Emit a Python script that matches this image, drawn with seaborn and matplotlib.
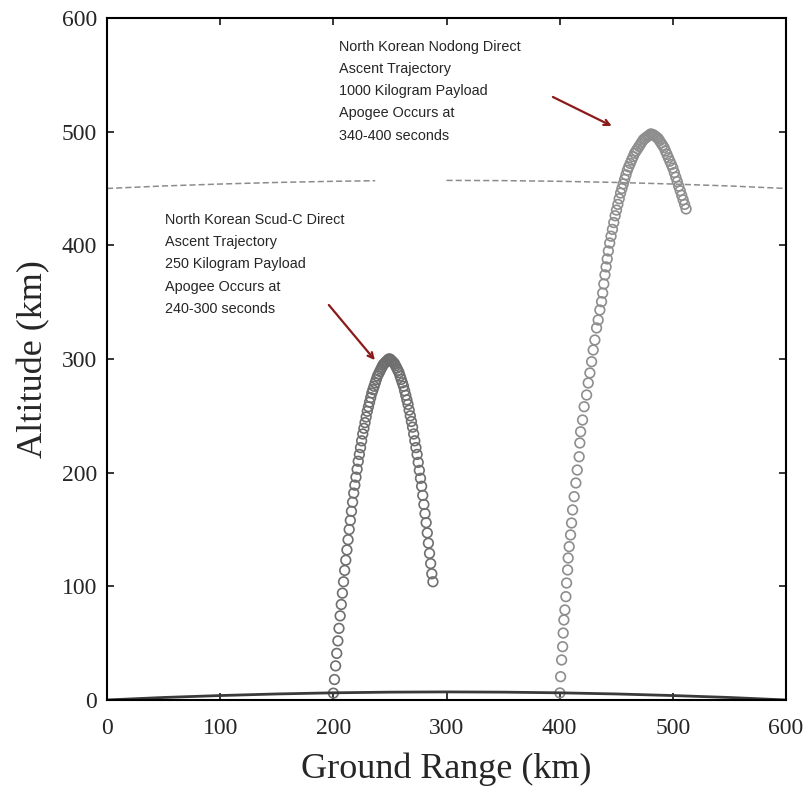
import numpy as np
import pandas as pd
import matplotlib
matplotlib.use('Agg')
import matplotlib.pyplot as plt
import seaborn as sns

# Scud-C trajectory (ground range km, altitude km)
scud_range = [200, 201, 202, 203, 204, 205, 206, 207, 208, 209,
              210, 211, 212, 213, 214, 215, 216, 217, 218, 219,
              220, 221, 222, 223, 224, 225, 226, 227, 228, 229,
              230, 231, 232, 233, 234, 235, 236, 237, 238, 239,
              240, 241, 242, 243, 244, 245, 246, 247, 248, 249,
              250, 251, 252, 253, 254, 255, 256, 257, 258, 259,
              260, 261, 262, 263, 264, 265, 266, 267, 268, 269,
              270, 271, 272, 273, 274, 275, 276, 277, 278, 279,
              280, 281, 282, 283, 284, 285, 286, 287, 288]
scud_alt = [6, 18, 30, 41, 52, 63, 74, 84, 94, 104,
            114, 123, 132, 141, 150, 158, 166, 174, 182, 189,
            196, 203, 210, 216, 222, 228, 234, 239, 244, 249,
            254, 258, 262, 266, 270, 273, 276, 279, 282, 285,
            287, 289, 291, 293, 295, 296, 297, 298, 299, 300,
            300, 299, 298, 297, 296, 294, 292, 290, 288, 285,
            282, 279, 276, 272, 268, 264, 260, 255, 250, 245,
            240, 234, 228, 222, 216, 209, 202, 195, 188, 180,
            172, 164, 156, 147, 138, 129, 120, 111, 104]

# Nodong trajectory
nodong_range = [400.2, 400.8, 401.7, 402.6, 403.1, 403.7, 404.6, 405.5, 406.1, 407.0,
                407.5, 408.4, 409.6, 410.5, 411.4, 412.8, 414.3, 415.5, 417.2, 417.8,
                418.5, 420.2, 421.6, 423.8, 425.2, 426.7, 428.2, 429.6, 431.1, 432.6,
                434.0, 435.5, 437.0, 438.0, 439.0, 440.0, 441.0, 442.0, 443.0, 444.2,
                445.4, 446.6, 447.8, 449.0, 450.2, 451.4, 452.6, 453.8, 455.0, 456.2,
                457.4, 458.6, 459.8, 461.0, 462.3, 463.6, 464.9, 466.2, 467.5, 468.8,
                470.1, 471.4, 472.7, 474.0, 475.3, 476.6, 477.9, 479.2, 480.5,
                481.8, 483.1, 484.4, 485.7, 487.0, 488.3, 489.6, 490.9, 492.2, 493.5,
                494.8, 496.1, 497.4, 498.7, 500.0, 501.3, 502.6, 503.9, 505.2, 506.5,
                507.8, 509.1, 510.4, 511.7]
nodong_alt = [6.2, 20.5, 35.2, 46.9, 58.9, 70.4, 79.2, 90.9, 102.9, 114.4,
              124.9, 134.9, 145.2, 155.7, 167.2, 178.9, 190.9, 202.3, 214.0, 226.1,
              236.0, 246.3, 258.0, 268.3, 278.9, 287.7, 297.6, 307.9, 316.7, 327.3,
              334.3, 343.1, 350.4, 358, 366, 374, 381, 388, 395, 402,
              408, 414, 420, 426, 431, 436, 441, 446, 450, 454,
              458, 462, 466, 469, 472, 475, 478, 481, 483, 485,
              487, 489, 491, 493, 494, 495, 496, 497, 498,
              497.5, 497, 496, 495, 494, 492, 490, 488, 486, 483,
              480, 477, 474, 471, 468, 464, 460, 456, 452, 448,
              444, 440, 436, 432]

# earth surface below the chord and the 450 km shell (dashed)
ground_range = [0, 50, 100, 150, 200, 250, 300, 350, 400, 450, 500, 550, 600]
ground_alt = [0, 2.2, 3.9, 5.3, 6.3, 6.9, 7.1, 6.9, 6.3, 5.3, 3.9, 2.2, 0]
shell_left_range = [0, 50, 100, 150, 200, 237]
shell_left_alt = [450, 452.2, 453.9, 455.3, 456.3, 456.8]
shell_right_range = [300, 350, 400, 450, 500, 550, 600]
shell_right_alt = [457.1, 456.9, 456.3, 455.3, 453.9, 452.2, 450]

nodong_label = ('North Korean Nodong Direct\nAscent Trajectory\n1000 Kilogram Payload\n'
                'Apogee Occurs at\n340-400 seconds')
scud_label = ('North Korean Scud-C Direct\nAscent Trajectory\n250 Kilogram Payload\n'
              'Apogee Occurs at\n240-300 seconds')

scud = pd.DataFrame({'range': scud_range, 'alt': scud_alt})
nodong = pd.DataFrame({'range': nodong_range, 'alt': nodong_alt})

sns.set_style('ticks')
plt.rcParams['font.family'] = ['Liberation Serif', 'DejaVu Serif']

fig = plt.figure(figsize=(8.07, 7.88), dpi=100)
ax = fig.add_axes([0.1326, 0.1117, 0.8414, 0.8655])

sns.lineplot(x=ground_range, y=ground_alt, ax=ax, color='#3a3a3a', linewidth=2.0)
sns.lineplot(x=shell_left_range, y=shell_left_alt, ax=ax, color='#8c8c8c',
             linewidth=1.1, linestyle=(0, (4, 2)))
sns.lineplot(x=shell_right_range, y=shell_right_alt, ax=ax, color='#8c8c8c',
             linewidth=1.1, linestyle=(0, (4, 2)))

sns.scatterplot(data=scud, x='range', y='alt', ax=ax, s=48, marker='o',
                facecolors='none', edgecolor='#6f6f6f', linewidth=1.2)
sns.scatterplot(data=nodong, x='range', y='alt', ax=ax, s=48, marker='o',
                facecolors='none', edgecolor='#8e8e8e', linewidth=1.2)

ax.set_xlim(0, 600)
ax.set_ylim(0, 600)
ax.set_xticks([0, 100, 200, 300, 400, 500, 600])
ax.set_yticks([0, 100, 200, 300, 400, 500, 600])
ax.tick_params(direction='in', top=True, right=True, length=5, width=1.3,
               labelsize=17)
ax.tick_params(axis='x', pad=13)
ax.tick_params(axis='y', pad=7)
for sp in ax.spines.values():
    sp.set_linewidth(1.5)
    sp.set_color('black')

ax.set_xlabel('Ground Range (km)', fontsize=26, labelpad=10)
ax.set_ylabel('Altitude (km)', fontsize=26, labelpad=8)

arrow_red = '#8b1a1a'
ax.text(205, 581, nodong_label, ha='left', va='top', fontsize=10.4,
        family='Liberation Sans', linespacing=1.75)
ax.text(51, 428.5, scud_label, ha='left', va='top', fontsize=10.4,
        family='Liberation Sans', linespacing=1.75)
ax.annotate('', xy=(446, 505), xytext=(394, 530.5),
            arrowprops=dict(arrowstyle='->', color=arrow_red, lw=1.6,
                            shrinkA=0, shrinkB=0))
ax.annotate('', xy=(236.7, 299), xytext=(196, 347.5),
            arrowprops=dict(arrowstyle='->', color=arrow_red, lw=1.6,
                            shrinkA=0, shrinkB=0))

fig.savefig('out.png', dpi=100)
